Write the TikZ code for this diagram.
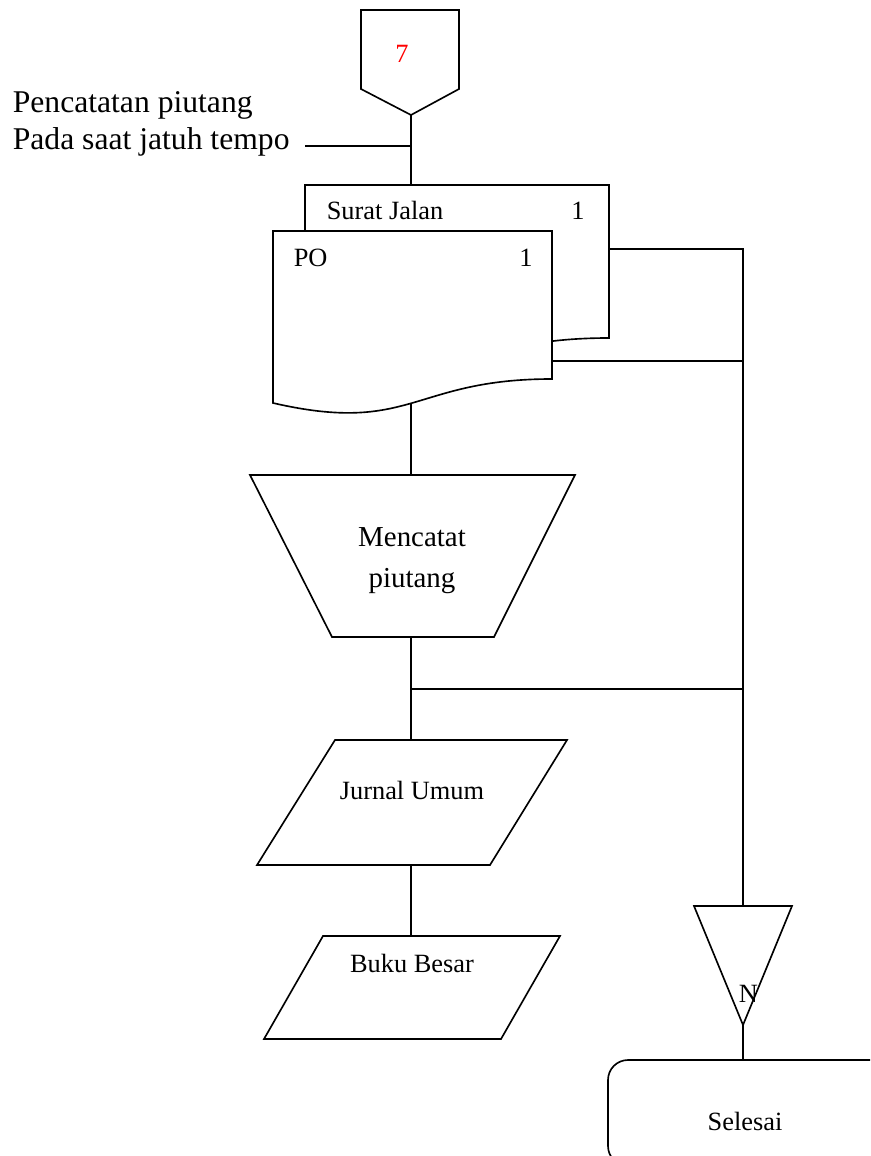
\documentclass[tikz,border=0pt]{standalone}
\usepackage{fontspec}
\setmainfont{Liberation Serif}

\begin{document}
\begin{tikzpicture}[x=0.03cm, y=-0.03cm, line width=1.4pt,
	shp/.style={draw=black, fill=white, line join=miter},
	txt/.style={anchor=base, inner sep=0pt, font=\fontsize{22.5}{27}\selectfont},
	note/.style={anchor=base west, inner sep=0pt, font=\fontsize{27}{32}\selectfont}]
			%%%%% START %%%%%
			
			\clip (0,0) rectangle (870,1156);
			
			\coordinate (offtip) at (411,115);
			\coordinate (branch) at (411,146);
			\coordinate (notend) at (305,146);
			\coordinate (sjtop) at (411,185);
			\coordinate (sjright) at (609,249);
			\coordinate (poright) at (552,361);
			\coordinate (pobot) at (411,404);
			\coordinate (trtop) at (411,475);
			\coordinate (trbot) at (411,637);
			\coordinate (join) at (411,689);
			\coordinate (jutop) at (411,740);
			\coordinate (jubot) at (411,865);
			\coordinate (bbtop) at (411,936);
			\coordinate (tritop) at (743,906);
			\coordinate (triapex) at (743,1025);
			\coordinate (seltop) at (743,1060);
			
			\draw (offtip) -- (sjtop);
			\draw (notend) -- (branch);
			\draw (pobot) -- (trtop);
			\draw (trbot) -- (jutop);
			\draw (jubot) -- (bbtop);
			\draw (sjright) -| (tritop);
			\draw (poright) -- (poright -| tritop);
			\draw (join) -- (join -| tritop);
			\draw (triapex) -- (seltop);
			
			\draw[shp] (361,10) -- (459,10) -- (459,89) -- (offtip) -- (361,89) -- cycle;
			\node[txt, text=red] (nr) at (402,63) {7};
			
			\node[note] (note1) at (12,113) {Pencatatan piutang};
			\node[note] (note2) at (12,150) {Pada saat jatuh tempo};
			
			\draw[shp] (305,185) -- (609,185) -- (609,338) .. controls (457,338) and (457,396) .. (305,363) -- cycle;
			\node[txt, anchor=base west] (lblsj) at (326,220) {Surat Jalan};
			\node[txt] (numsj) at (578,220) {1};
			
			\draw[shp] (273,231) -- (552,231) -- (552,379) .. controls (412,379) and (412,435) .. (273,403) -- cycle;
			\node[txt, anchor=base west] (lblpo) at (293,266) {PO};
			\node[txt] (numpo) at (526,266) {1};
			
			\draw[shp] (250,475) -- (575,475) -- (494,637) -- (332,637) -- cycle;
			\node[txt, font=\fontsize{24.7}{29}\selectfont] (lblcat1) at (412,546) {Mencatat};
			\node[txt, font=\fontsize{24.7}{29}\selectfont] (lblcat2) at (412,587) {piutang};
			
			\draw[shp] (335,740) -- (567,740) -- (490,865) -- (257,865) -- cycle;
			\node[txt] (lblju) at (412,799) {Jurnal Umum};
			
			\draw[shp] (323,936) -- (560,936) -- (501,1039) -- (264,1039) -- cycle;
			\node[txt] (lblbb) at (412,972) {Buku Besar};
			
			\draw[shp] (694,906) -- (792,906) -- (triapex) -- cycle;
			\node[txt, anchor=base west] (lbln) at (738,1002) {N};
			
			\draw[shp, rounded corners=0.6cm] (608,1060) rectangle (900,1166);
			\node[txt] (lblsel) at (745,1130) {Selesai};
			
			%%%%% END %%%%%
\end{tikzpicture}
\end{document}
